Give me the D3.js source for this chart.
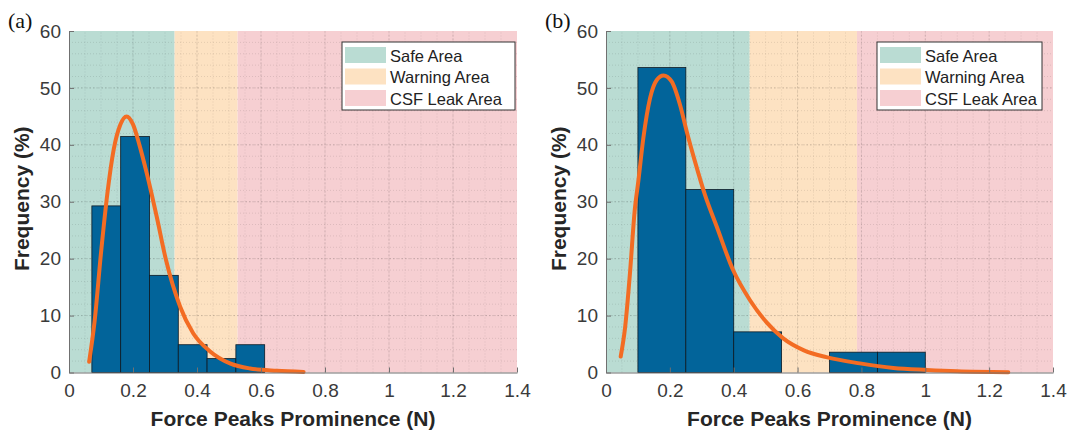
<!DOCTYPE html>
<html>
<head>
<meta charset="utf-8">
<script src="https://cdn.jsdelivr.net/npm/d3@7"></script>
<style>
html,body{margin:0;padding:0;background:#fff;}
svg{display:block;font-family:"Liberation Sans",Arial,sans-serif;}
</style>
</head>
<body>
<svg id="chart" width="1071" height="434"></svg>
<script>
// ---- data ----
const xTicks = [0, 0.2, 0.4, 0.6, 0.8, 1, 1.2, 1.4];
const xTickLabels = ["0", "0.2", "0.4", "0.6", "0.8", "1", "1.2", "1.4"];
const yTicks = [0, 10, 20, 30, 40, 50, 60];
const areaNames = ["Safe Area", "Warning Area", "CSF Leak Area"];
const areaColors = ["#badcd3", "#fde2c2", "#f6cfd2"];
const areaBoundsA = [0, 0.33, 0.527, 1.4];
const areaBoundsB = [0, 0.45, 0.786, 1.4];
const binEdgesA = [0.0715, 0.1615, 0.2515, 0.3415, 0.4315, 0.5215, 0.6115];
const freqA = [29.27, 41.46, 17.07, 4.88, 2.44, 4.88];
const binEdgesB = [0.1, 0.25, 0.4, 0.55, 0.7, 0.85, 1.0];
const freqB = [53.57, 32.14, 7.14, 0, 3.57, 3.57];
const fitXA = [0.063, 0.08, 0.1, 0.12, 0.14, 0.16, 0.18, 0.2, 0.22, 0.243, 0.274, 0.303, 0.347, 0.388, 0.441, 0.503, 0.566, 0.649, 0.733];
const fitYA = [1.9, 9, 21, 31.5, 39.3, 43.5, 45, 43.6, 40, 35, 27.4, 19.8, 11.6, 6.9, 3.7, 1.6, 0.7, 0.3, 0.1];
const fitXB = [0.046, 0.06, 0.075, 0.09, 0.101, 0.117, 0.138, 0.159, 0.18, 0.206, 0.232, 0.253, 0.279, 0.31, 0.347, 0.398, 0.451, 0.503, 0.555, 0.62, 0.69, 0.795, 0.9, 1.004, 1.1, 1.26];
const fitYB = [2.8, 8, 17.4, 28.5, 33.5, 41.2, 48.2, 51.4, 52.2, 51.1, 47, 42.3, 37, 31.2, 25.6, 18, 12.7, 8.8, 6, 3.9, 2.7, 1.6, 0.8, 0.44, 0.2, 0.05];
const panelLabels = ["(a)", "(b)"];
const xTitle = "Force Peaks Prominence (N)";
const yTitle = "Frequency (%)";

const panels = [
  {label: panelLabels[0], left: 69, right: 517, bounds: areaBoundsA, edges: binEdgesA, freq: freqA, fx: fitXA, fy: fitYA, legX: 342, legW: 173},
  {label: panelLabels[1], left: 606, right: 1053, bounds: areaBoundsB, edges: binEdgesB, freq: freqB, fx: fitXB, fy: fitYB, legX: 877, legW: 165}
];
const plotTop = 31, plotBottom = 372.5;

const svg = d3.select("#chart");

panels.forEach(p => {
  const x = d3.scaleLinear().domain([0, 1.4]).range([p.left, p.right]);
  const y = d3.scaleLinear().domain([0, 60]).range([plotBottom, plotTop]);
  const g = svg.append("g");

  // background areas
  g.selectAll("rect.area").data(areaNames).enter().append("rect")
    .attr("x", (d, i) => x(p.bounds[i]))
    .attr("y", y(60))
    .attr("width", (d, i) => x(p.bounds[i + 1]) - x(p.bounds[i]))
    .attr("height", y(0) - y(60))
    .attr("fill", (d, i) => areaColors[i]);

  // minor grid
  const minorX = d3.range(1, 28).map(k => k * 0.05);
  const minorY = d3.range(1, 30).map(k => k * 2);
  g.selectAll("line.mx").data(minorX).enter().append("line")
    .attr("x1", d => x(d)).attr("x2", d => x(d)).attr("y1", y(0)).attr("y2", y(60))
    .attr("stroke", "rgba(0,0,0,0.13)").attr("stroke-width", 0.8).attr("stroke-dasharray", "1,2");
  g.selectAll("line.my").data(minorY).enter().append("line")
    .attr("y1", d => y(d)).attr("y2", d => y(d)).attr("x1", x(0)).attr("x2", x(1.4))
    .attr("stroke", "rgba(0,0,0,0.13)").attr("stroke-width", 0.8).attr("stroke-dasharray", "1,2");
  // major grid
  g.selectAll("line.gx").data(xTicks.slice(1, -1)).enter().append("line")
    .attr("x1", d => x(d)).attr("x2", d => x(d)).attr("y1", y(0)).attr("y2", y(60))
    .attr("stroke", "rgba(0,0,0,0.16)").attr("stroke-width", 0.8).attr("stroke-dasharray", "2,2");
  g.selectAll("line.gy").data(yTicks.slice(1, -1)).enter().append("line")
    .attr("y1", d => y(d)).attr("y2", d => y(d)).attr("x1", x(0)).attr("x2", x(1.4))
    .attr("stroke", "rgba(0,0,0,0.16)").attr("stroke-width", 0.8).attr("stroke-dasharray", "2,2");

  // bars
  const bins = p.freq.map((v, i) => ({x0: p.edges[i], x1: p.edges[i + 1], v: v})).filter(b => b.v > 0);
  g.selectAll("rect.bar").data(bins).enter().append("rect")
    .attr("x", d => x(d.x0))
    .attr("y", d => y(d.v))
    .attr("width", d => x(d.x1) - x(d.x0))
    .attr("height", d => y(0) - y(d.v))
    .attr("fill", "#02649a")
    .attr("stroke", "#0d1a24")
    .attr("stroke-width", 0.8);

  // fit curve
  const pts = p.fx.map((v, i) => [v, p.fy[i]]);
  g.append("path").datum(pts)
    .attr("d", d3.line().x(d => x(d[0])).y(d => y(d[1])).curve(d3.curveMonotoneX))
    .attr("fill", "none").attr("stroke", "#f36c23").attr("stroke-width", 4)
    .attr("stroke-linecap", "round").attr("stroke-linejoin", "round");

  // axes
  const xAxis = d3.axisBottom(x).tickValues(xTicks).tickFormat((d, i) => xTickLabels[i]).tickSizeInner(-5).tickSizeOuter(0).tickPadding(11);
  const yAxis = d3.axisLeft(y).tickValues(yTicks).tickSizeInner(-5).tickSizeOuter(0).tickPadding(8);
  const gx = g.append("g").attr("transform", `translate(0,${plotBottom})`).call(xAxis);
  const gy = g.append("g").attr("transform", `translate(${p.left},0)`).call(yAxis);
  [gx, gy].forEach(a => {
    a.select(".domain").attr("stroke", "#707070").attr("stroke-width", 1);
    a.selectAll(".tick line").attr("stroke", "#707070");
    a.selectAll(".tick text").attr("fill", "#3a3a3a").attr("font-size", 19)
      .attr("font-family", "'Liberation Sans', Arial, sans-serif");
  });

  // titles
  g.append("text").attr("x", (p.left + p.right) / 2).attr("y", 426)
    .attr("text-anchor", "middle").attr("font-size", 21).attr("font-weight", "bold").attr("fill", "#262626")
    .text(xTitle);
  g.append("text").attr("transform", `translate(${p.left - 40},${(plotTop + plotBottom) / 2 - 3}) rotate(-90)`)
    .attr("text-anchor", "middle").attr("font-size", 21).attr("font-weight", "bold").attr("fill", "#262626")
    .text(yTitle);
  g.append("text").attr("x", p.left - 61).attr("y", 28)
    .attr("font-family", "'Liberation Serif', 'Times New Roman', serif").attr("font-size", 22).attr("fill", "#111")
    .text(p.label);

  // legend
  const lg = g.append("g").attr("transform", `translate(${p.legX},42)`);
  lg.append("rect").attr("width", p.legW).attr("height", 68)
    .attr("fill", "#fff").attr("stroke", "#333").attr("stroke-width", 1);
  areaNames.forEach((n, i) => {
    lg.append("rect").attr("x", 3).attr("y", 5 + i * 21.5).attr("width", 41).attr("height", 16).attr("fill", areaColors[i]);
    lg.append("text").attr("x", 48).attr("y", 19.5 + i * 21.5).attr("font-size", 16.5).attr("fill", "#222").text(n);
  });
});
</script>
</body>
</html>
